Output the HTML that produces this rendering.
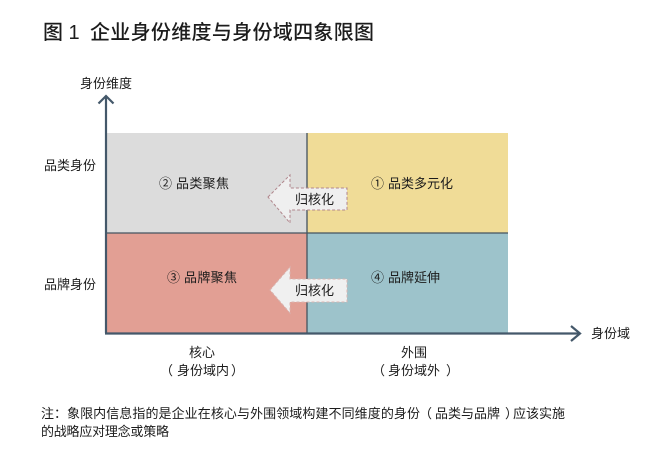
<!DOCTYPE html>
<html lang="zh"><head><meta charset="utf-8"><style>
html,body{margin:0;padding:0;background:#fff}
svg{display:block}
text{font-family:"Liberation Sans","Noto Sans CJK SC",sans-serif;fill:#1c1c1c;font-size:13px}
</style></head><body>
<svg width="655" height="473" viewBox="0 0 655 473" xmlns="http://www.w3.org/2000/svg">
<text x="43" y="39" style="font-size:20px" font-weight="500">图 1</text>
<text x="90" y="39" style="font-size:20px" font-weight="500" textLength="284">企业身份维度与身份域四象限图</text>
<text x="80" y="88" textLength="52">身份维度</text>

<rect x="107" y="133" width="200" height="100" fill="#dcdcdc"/>
<rect x="307" y="133" width="201" height="100" fill="#f0dc97"/>
<rect x="107" y="233" width="200" height="100" fill="#e29f94"/>
<rect x="307" y="233" width="201" height="100" fill="#9dc3cb"/>
<path d="M307 133V333M107 233H508" stroke="#44535f" stroke-width="1.300" fill="none"/>

<path d="M106 333V97" stroke="#44586a" stroke-width="2.200" fill="none"/>
<path d="M98.500 103.500L106 96L113.500 103.500" stroke="#44586a" stroke-width="2.200" fill="none"/>
<path d="M105 333.500H579" stroke="#44586a" stroke-width="2.200" fill="none"/>
<path d="M571 326L580 333.500L571 341" stroke="#44586a" stroke-width="2.200" fill="none"/>

<path d="M268 197L290 175V188H347V210H290V223Z" fill="#efefef" stroke="#b0868c" stroke-width="1" stroke-dasharray="3 2"/>
<path d="M270 290L290 267V279H347V302H290V313Z" fill="#f0f0f0" stroke="#d8b4b0" stroke-width="1" stroke-dasharray="3 2"/>
<text x="295" y="204" textLength="39">归核化</text>
<text x="295" y="295" textLength="39">归核化</text>

<text x="159" y="188">②</text><text x="176" y="188" textLength="53">品类聚焦</text>
<text x="371" y="188">①</text><text x="388" y="188" textLength="65">品类多元化</text>
<text x="167" y="282">③</text><text x="184" y="282" textLength="53">品牌聚焦</text>
<text x="371" y="282">④</text><text x="388" y="282" textLength="52">品牌延伸</text>

<text x="44" y="170" textLength="52">品类身份</text>
<text x="44" y="289" textLength="52">品牌身份</text>
<text x="591" y="338" textLength="39">身份域</text>

<text x="189" y="357" textLength="26">核心</text>
<text x="160" y="375">（</text>
<text x="177" y="375" textLength="52">身份域内</text>
<text x="231" y="375">）</text>
<text x="401" y="357" textLength="26">外围</text>
<text x="372" y="375">（</text>
<text x="388" y="375" textLength="52">身份域外</text>
<text x="446" y="375">）</text>

<text x="41" y="418">注：</text>
<text x="67" y="418" textLength="353">象限内信息指的是企业在核心与外围领域构建不同维度的身份</text>
<text x="419" y="418">（</text>
<text x="435" y="418" textLength="65">品类与品牌</text>
<text x="505" y="418">）</text>
<text x="513" y="418" textLength="52">应该实施</text>
<text x="41" y="436" textLength="128">的战略应对理念或策略</text>
</svg>
</body></html>
